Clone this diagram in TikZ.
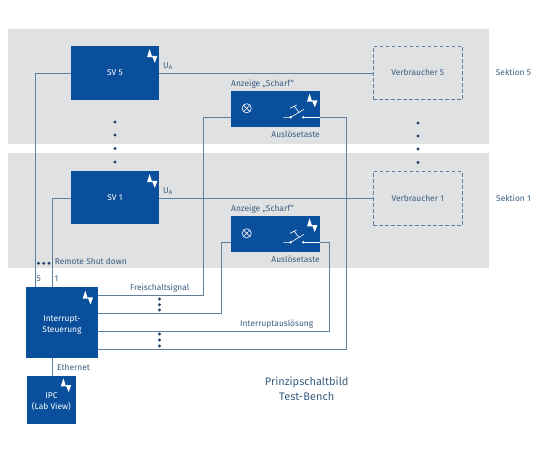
\documentclass[tikz,border=0pt]{standalone}
\usepackage{fontspec}
\setmainfont{Fira Sans}
\usetikzlibrary{calc}
\definecolor{band}{HTML}{E0E1E3}
\definecolor{boxblue}{HTML}{0A4F9C}
\definecolor{wire}{HTML}{5F7F9F}
\definecolor{txt}{HTML}{3A5F80}
\definecolor{dotc}{HTML}{1F3F66}
\tikzset{
  x=1pt,y=-1pt,
  bluebox/.style={fill=boxblue,draw=none,inner sep=0pt,text=white,align=center,font=\fontsize{8.4}{11}\selectfont},
  dashbox/.style={draw=wire,dash pattern=on 3.5pt off 2.5pt,line width=0.8pt,inner sep=0pt,text=txt,font=\fontsize{8.4}{11}\selectfont},
  wireline/.style={draw=wire,line width=0.9pt},
  lbl/.style={text=txt,inner sep=0pt,font=\fontsize{8.4}{11}\selectfont},
  titlelbl/.style={text=txt,inner sep=0pt,align=center,font=\fontsize{11}{15}\selectfont},
  swline/.style={white,line width=0.6pt},
}
\newcommand{\zapicon}[1]{%
  \fill[white] ($(#1)+(-2.4,-7.4)$) -- ($(#1)+(-5,0.6)$) -- ($(#1)+(0.2,0.6)$) -- cycle;
  \fill[white] ($(#1)+(2.8,6.4)$) -- ($(#1)+(0,-0.6)$) -- ($(#1)+(5.4,-0.6)$) -- cycle;
}
\newcommand{\lampsw}[1]{%
  \draw[swline] ($(#1)+(16,17.3)$) circle (4.6);
  \draw[swline] ($(#1)+(12.8,14.1)$) -- ($(#1)+(19.2,20.5)$) ($(#1)+(12.8,20.5)$) -- ($(#1)+(19.2,14.1)$);
  \draw[swline] ($(#1)+(52.6,26.3)$) -- ($(#1)+(60,26.3)$) -- ($(#1)+(73.3,18.3)$);
  \draw[swline] ($(#1)+(59.3,17.3)$) -- ($(#1)+(66,14)$) ($(#1)+(63.3,15)$) -- ($(#1)+(68.6,21.7)$);
  \draw[swline] ($(#1)+(72.6,26.3)$) -- ($(#1)+(89,26.3)$);
  \fill[white] ($(#1)+(60,26.3)$) circle (1.3) ($(#1)+(72.6,26.3)$) circle (1.3);
}
\newcommand{\bigdot}[1]{\fill[dotc] (#1) circle (1.6);}
\begin{document}
\begin{tikzpicture}
\useasboundingbox (0,0) rectangle (540,450);
\fill[white] (0,0) rectangle (540,450);
\fill[band] (8,29) rectangle (489,144);
\fill[band] (8,153) rectangle (489,268);

% boxes
\node[bluebox,anchor=north west,minimum width=88.5pt,minimum height=53.5pt] (sv5) at (70.5,46) {SV 5};
\node[bluebox,anchor=north west,minimum width=88.5pt,minimum height=53pt] (sv1) at (70.5,171) {SV 1};
\node[bluebox,anchor=north west,minimum width=89pt,minimum height=35.7pt] (an5) at (230.7,91) {};
\node[bluebox,anchor=north west,minimum width=89pt,minimum height=36pt] (an1) at (230.7,215.7) {};
\node[dashbox,anchor=north west,minimum width=89.3pt,minimum height=53.5pt] (vb5) at (372.7,45.7) {Verbraucher 5};
\node[dashbox,anchor=north west,minimum width=89.3pt,minimum height=53.7pt] (vb1) at (372.7,171.3) {Verbraucher 1};
\node[bluebox,anchor=north west,minimum width=71.5pt,minimum height=71pt] (ic) at (26,286.7) {\\[-1pt]Interrupt-\\Steuerung};
\node[bluebox,anchor=north west,minimum width=48.5pt,minimum height=48pt] (ipc) at (27,376) {\\[-3pt]IPC\\(Lab View)};

% helper coordinates
\coordinate (c5) at (35,286.7);
\coordinate (c1) at (52.5,286.7);
\coordinate (sw5) at (303.3,117.3);
\coordinate (sw1) at (303.3,242.3);

% wires
\draw[wireline] (sv5.west |- 0,73) -| (c5);
\draw[wireline] (sv1.west |- 0,198) -| (c1);
\draw[wireline] (sv5.east |- 0,73) -- (vb5.west |- 0,73);
\draw[wireline] (sv1.east |- 0,198) -- (vb1.west |- 0,198);
\draw[wireline] (an5.west |- 0,117.3) -- (203.7,117.3) -- (203.7,295.3) -- (ic.east |- 0,295.3);
\draw[wireline] (an1.west |- 0,242.3) -- (221.7,242.3) -- (221.7,313.7) -- (ic.east |- 0,313.7);
\draw[wireline] (an1.east |- sw1) -- (329,242.3) -- (329,331.3) -- (ic.east |- 0,331.3);
\draw[wireline] (an5.east |- sw5) -- (346.3,117.3) -- (346.3,349) -- (ic.east |- 0,349);
\draw[wireline] (ic.south -| c1) -- (ipc.north -| c1);

% icons
\zapicon{152,56.5}
\zapicon{152,181.5}
\zapicon{312,101}
\zapicon{312,225.7}
\zapicon{87.7,298}
\zapicon{65.8,385.7}
\lampsw{230.7,91}
\lampsw{230.7,216}

% dots
\bigdot{115,122}\bigdot{115,135}\bigdot{115,148.5}\bigdot{115,162}
\bigdot{418,123}\bigdot{418,136}\bigdot{418,149}\bigdot{418,162.5}
\bigdot{159.5,299}\bigdot{159.5,304.7}\bigdot{159.5,310}
\bigdot{159.5,334}\bigdot{159.5,340}\bigdot{159.5,346}
\bigdot{38.5,263.3}\bigdot{43.7,263.3}\bigdot{49,263.3}

% labels
\node[lbl,anchor=west] (ua5) at (163,66) {U\textsubscript{A}};
\node[lbl,anchor=west] (ua1) at (163,191) {U\textsubscript{A}};
\node[lbl,anchor=west] (az5) at (231,84.3) {Anzeige „Scharf“};
\node[lbl,anchor=west] (az1) at (231,209.3) {Anzeige „Scharf“};
\node[lbl,anchor=east] (at5) at (320,134.7) {Auslösetaste};
\node[lbl,anchor=east] (at1) at (320,259.3) {Auslösetaste};
\node[lbl,anchor=west] (s5) at (495.7,72.7) {Sektion 5};
\node[lbl,anchor=west] (s1) at (496,198) {Sektion 1};
\node[lbl,anchor=west] (rsd) at (54.7,261.7) {Remote Shut down};
\node[lbl,anchor=west] (n5) at (36.5,278.7) {5};
\node[lbl,anchor=west] (n1) at (54.3,278.7) {1};
\node[lbl,anchor=west] (fs) at (130,288) {Freischaltsignal};
\node[lbl,anchor=west] (eth) at (57,367) {Ethernet};
\node[lbl,anchor=west] (ia) at (240,324.3) {Interruptauslösung};
\node[titlelbl] (ti) at (306.7,389.2) {Prinzipschaltbild\\Test-Bench};
\end{tikzpicture}
\end{document}
